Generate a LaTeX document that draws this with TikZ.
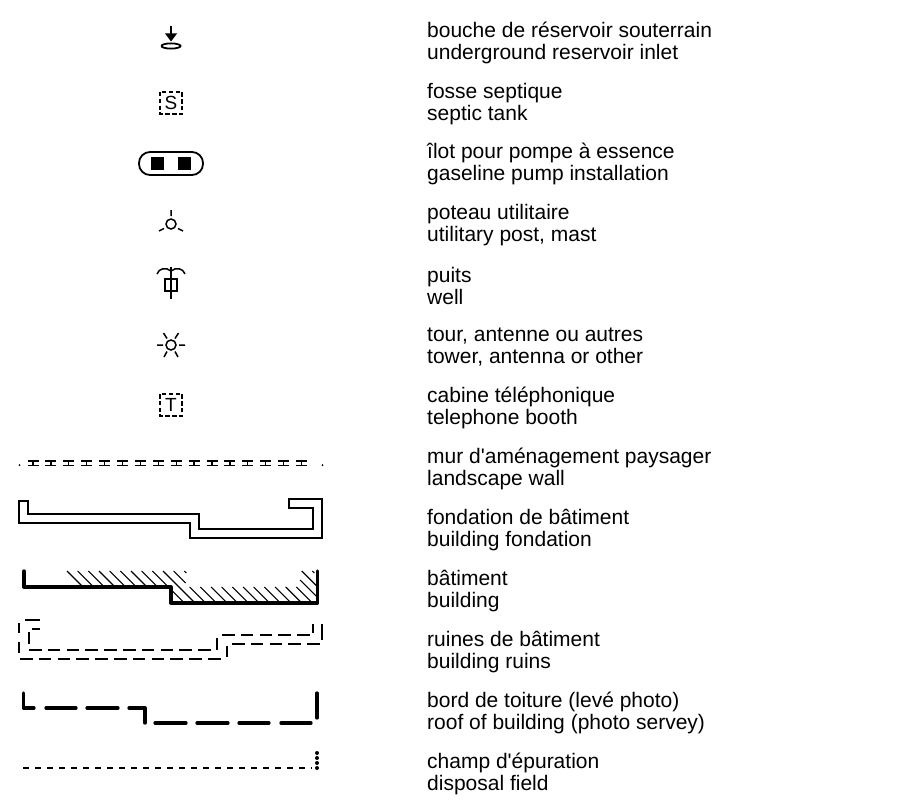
\documentclass[tikz,border=0pt]{standalone}
\usepackage{fontspec}
\setmainfont{Liberation Sans}[Ligatures=TeXOff]
\tikzset{
  lbl/.style={anchor=west,inner sep=0pt,align=left,font=\fontsize{21}{21.7}\selectfont,text=black},
  sym/.style={draw=black,line width=1.5pt},
  thick sym/.style={draw=black,line width=3.3pt,line cap=round,line join=round},
  roof/.style={draw=black,line width=3.3pt,line cap=round,line join=round},
  ruin/.style={draw=black,line width=1.3pt},
  hatchl/.style={draw=black,line width=1.1pt},
  boxd/.style={draw=black,line width=1.6pt,dash pattern=on 4.5pt off 2.3pt},
  boxlet/.style={inner sep=0pt,font=\fontsize{19}{19}\selectfont},
}
\newcommand{\hatchseg}[3]{\pgfmathsetmacro\hx{67+10.67*#1-571}\draw[hatchl] (\hx+#2,#2)--(\hx+#3,#3);}
\begin{document}
\begin{tikzpicture}[x=1pt,y=-1pt]
\useasboundingbox (0,0) rectangle (900,808);
\foreach \n/\y/\a/\b in {
 a/43/bouche de réservoir souterrain/underground reservoir inlet,
 b/104/fosse septique/septic tank,
 c/164/îlot pour pompe à essence/gaseline pump installation,
 d/225/poteau utilitaire/utilitary post{,} mast,
 e/286/puits/well,
 f/347/{tour, antenne ou autres}/{tower, antenna or other},
 g/408/cabine téléphonique/telephone booth,
 h/469/mur d'aménagement paysager/landscape wall,
 i/530/fondation de bâtiment/building fondation,
 j/591/bâtiment/building,
 k/652/ruines de bâtiment/building ruins,
 l/713/bord de toiture (levé photo)/roof of building (photo servey),
 m/774/champ d'épuration/disposal field}
 {\node[lbl] (\n) at (427,\y) {\a\\\b};}
% inlet
\draw[sym,line width=2.3pt] (171,26)--(171,35);
\fill (165,33.5)--(177,33.5)--(171,41.5)--cycle;
\draw[sym,line width=1.8pt] (161.5,46) arc[start angle=180,end angle=-180,x radius=9.5,y radius=2.6];
% septic
\draw[boxd] (160,92) rectangle (182,114);
\node[boxlet] (s) at (171,103) {S};
% pump
\draw[sym,line width=1.8pt,rounded corners=11pt] (139,152) rectangle (203,175);
\fill (151,157) rectangle (164,170);
\fill (178,157) rectangle (191,170);
% post
\draw[sym] (171,224) circle (5);
\draw[sym] (171,210)--(171,216) (159,231)--(164,228.5) (183,231)--(178,228.5);
% well
\draw[sym] (171,267)--(171,299);
\draw[sym] (165,279) rectangle (177,291);
\draw[sym] (157,274) .. controls (159,268) and (166,267) .. (171,271) .. controls (176,267) and (183,268) .. (185,274);
% tower
\draw[sym] (171,345) circle (5);
\draw[sym] (157,345)--(163,345) (179,345)--(185,345) (163.5,333)--(167,338.5) (178.5,333)--(175,338.5) (164,357)--(167,351.5) (178,357)--(175,351.5);
% booth
\draw[boxd] (160,394) rectangle (182,416);
\node[boxlet] (t) at (171,405) {T};
% wall
\fill (19.5,465) circle (1) (322.5,465) circle (1);
\foreach \i in {0,...,15}{
  \pgfmathsetmacro\c{33+17.9*\i}
  \draw[ruin] (\c-5.5,461)--(\c+5.5,461) (\c-5.5,465.5)--(\c+5.5,465.5) (\c,461)--(\c,465.5);
}
% foundation
\draw[sym,line join=miter] (19,501)--(28,501)--(28,514)--(199,514)--(199,529)--(313,529)--(313,508)--(289,508)--(289,499)--(322,499)--(322,538)--(190,538)--(190,523)--(19,523)--cycle;
% building hatching
\foreach \k in {0,...,7}{\hatchseg{\k}{571}{587}}
\hatchseg{8}{571}{587}
\hatchseg{8}{590}{602}
\hatchseg{9}{571}{602}
\hatchseg{10}{571}{583}
\hatchseg{10}{587}{602}
\hatchseg{11}{571}{573}
\foreach \k in {11,...,20}{\hatchseg{\k}{587}{602}}
\hatchseg{21}{580}{597}
\hatchseg{22}{571}{586}
\hatchseg{23}{571}{573}
% building
\draw[thick sym] (24,571)--(24,587)--(171,587)--(171,603)--(317.5,603)--(317.5,571);
% ruins
\draw[ruin] (25,620)--(40,620) (32,629)--(40,629);
\draw[ruin] (19,623)--(19,633) (19,642)--(19,653);
\draw[ruin] (29,632)--(29,644);
\draw[ruin,dash pattern=on 12.5pt off 6.3pt] (29,650)--(212,650);
\draw[ruin,dash pattern=on 12.5pt off 6.3pt] (20,659)--(222,659);
\draw[ruin] (217,638)--(217,650) (227,646)--(227,657);
\draw[ruin,dash pattern=on 12.5pt off 6.3pt] (222,635)--(310,635);
\draw[ruin,dash pattern=on 12.5pt off 6.3pt] (232,644)--(320,644);
\draw[ruin] (313,624)--(313,633) (322,624)--(322,640);
% roof
\draw[roof] (23.5,693)--(23.5,708)--(34,708);
\draw[roof] (46,708)--(76,708) (87,708)--(118,708);
\draw[roof] (129,708)--(145,708)--(145,723);
\draw[roof] (155,723)--(186,723) (197,723)--(228,723) (239,723)--(269,723) (281,723)--(311,723);
\draw[roof] (317,693)--(317,718);
% disposal
\draw[ruin,dash pattern=on 6pt off 6pt] (23,768)--(312,768);
\fill (317,753) circle (2) (317,758) circle (2) (317,763) circle (2) (317,768) circle (2);
\end{tikzpicture}
\end{document}
